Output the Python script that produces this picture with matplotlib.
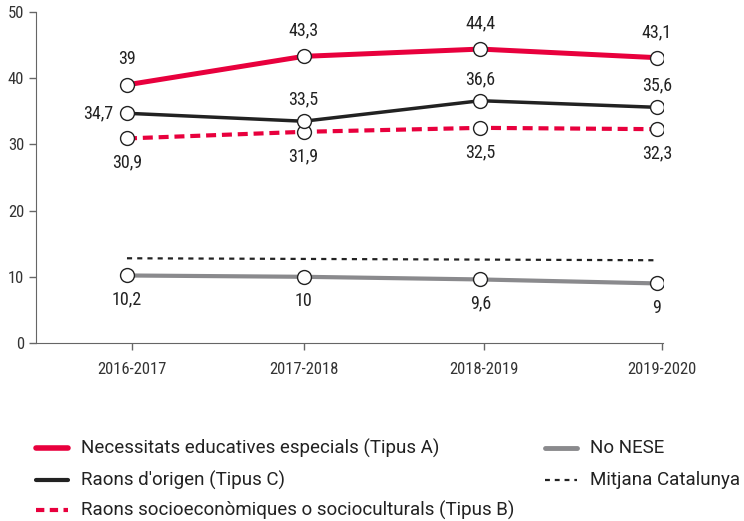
import matplotlib
matplotlib.use('Agg')
import matplotlib.pyplot as plt
from matplotlib import font_manager
from matplotlib.lines import Line2D

# narrow font for the axis and point labels, regular for the legend
names = {f.name for f in font_manager.fontManager.ttflist}
narrow = 'Roboto'
for cand in ['Roboto Condensed', 'Liberation Sans Narrow']:
    if cand in names:
        narrow = cand
        break
plt.rcParams['font.family'] = [narrow, 'DejaVu Sans']

years = ['2016-2017', '2017-2018', '2018-2019', '2019-2020']
tipus_a = [39, 43.3, 44.4, 43.1]
tipus_c = [34.7, 33.5, 36.6, 35.6]
tipus_b = [30.9, 31.9, 32.5, 32.3]
no_nese = [10.2, 10, 9.6, 9]
mitjana = [12.8, 12.7, 12.6, 12.5]

RED = '#E8003D'
BLACK = '#222222'
GRAY = '#8a8a8d'

def fmt(v):
    return f'{v:g}'.replace('.', ',')

fig = plt.figure(figsize=(7.44, 5.21), dpi=100)
ax = fig.add_axes([36 / 744, 1 - 343 / 521, (663 - 36) / 744, (343 - 12) / 521])

x = list(range(len(years)))
mk = dict(marker='o', markersize=10, markerfacecolor='white', markeredgecolor=BLACK, markeredgewidth=1)

ax.plot(x, mitjana, color=BLACK, lw=1.6, ls=(0, (2.3, 2.3)), zorder=2)
ax.plot(x, no_nese, color=GRAY, lw=3, zorder=3, **mk)
ax.plot(x, tipus_b, color=RED, lw=3, ls=(0, (2.4, 1.4)), zorder=3, **mk)
ax.plot(x, tipus_c, color=BLACK, lw=2.5, zorder=4, **mk)
ax.plot(x, tipus_a, color=RED, lw=3.6, zorder=5, **mk)

lbl = dict(fontsize=13, color=BLACK, ha='center')
for i in x:
    ax.annotate(fmt(tipus_a[i]), (i, tipus_a[i]), xytext=(0, 12), textcoords='offset points', va='bottom', **lbl)
    ax.annotate(fmt(tipus_b[i]), (i, tipus_b[i]), xytext=(0, -11), textcoords='offset points', va='top', **lbl)
    ax.annotate(fmt(no_nese[i]), (i, no_nese[i]), xytext=(0, -11), textcoords='offset points', va='top', **lbl)
    if i == 0:
        ax.annotate(fmt(tipus_c[i]), (i, tipus_c[i]), xytext=(-10, 0), textcoords='offset points',
                    va='center', fontsize=13, color=BLACK, ha='right')
    else:
        ax.annotate(fmt(tipus_c[i]), (i, tipus_c[i]), xytext=(0, 9), textcoords='offset points', va='bottom', **lbl)

ax.set_xlim(-0.515, 3.034)
ax.set_ylim(0, 50)
ax.set_yticks(range(0, 51, 10))
# ticks sit a touch off the points in the original
ax.set_xticks([0.03, 1.0, 2.02, 3.03])
ax.set_xticklabels(years)
ax.tick_params(axis='both', labelsize=12, colors='#333333', length=5, width=1, color='#666666')
ax.tick_params(axis='x', pad=9)
for s in ['top', 'right']:
    ax.spines[s].set_visible(False)
for s in ['left', 'bottom']:
    ax.spines[s].set_color('#666666')

# legend, drawn by hand to keep the two uneven columns
legend_items = [
    ('Necessitats educatives especials (Tipus A)', RED, 4, '-', 36, 448),
    ("Raons d'origen (Tipus C)", BLACK, 3, '-', 36, 480),
    ('Raons socioeconòmiques o socioculturals (Tipus B)', RED, 3, (0, (2, 1.3)), 36, 510),
    ('No NESE', GRAY, 3.5, '-', 545, 448),
    ('Mitjana Catalunya', BLACK, 1.6, (0, (2.2, 2.2)), 545, 480),
]
for text, color, lw, ls, px, py in legend_items:
    yf = 1 - py / 521
    fig.add_artist(Line2D([px / 744, (px + 32) / 744], [yf, yf], color=color, lw=lw, ls=ls,
                          solid_capstyle='round'))
    fig.text((px + 45) / 744, yf, text, fontsize=13.5, color=BLACK, va='center', ha='left',
             family=['Roboto', 'DejaVu Sans'])

fig.savefig('out.png', dpi=100)
